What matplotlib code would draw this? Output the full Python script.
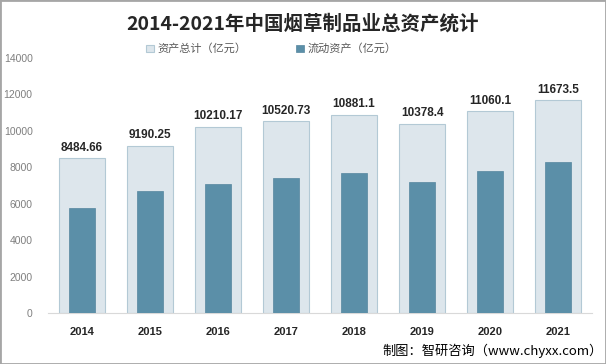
import matplotlib.pyplot as plt
import numpy as np
from matplotlib.patches import Rectangle

plt.rcParams['font.family'] = ['Noto Sans CJK SC', 'DejaVu Sans']

years = ['2014', '2015', '2016', '2017', '2018', '2019', '2020', '2021']
total_assets = [8484.66, 9190.25, 10210.17, 10520.73, 10881.1, 10378.4, 11060.1, 11673.5]
total_labels = ['8484.66', '9190.25', '10210.17', '10520.73', '10881.1', '10378.4', '11060.1', '11673.5']
current_assets = [5770, 6700, 7085, 7410, 7690, 7195, 7815, 8290]

light = '#dde6ec'
light_edge = '#b3c9d5'
dark = '#5b8fa8'

fig = plt.figure(figsize=(6.06, 3.64), dpi=100)
ax = fig.add_axes([0.079, 0.14, 0.898, 0.701])

x = np.arange(len(years))
ax.bar(x, total_assets, width=0.67, color=light, edgecolor=light_edge, linewidth=0.8,
       label='资产总计（亿元）', zorder=2)
ax.bar(x, current_assets, width=0.38, color=dark, edgecolor='#55869e', linewidth=0.5,
       label='流动资产（亿元）', zorder=3)

for xi, v, s in zip(x, total_assets, total_labels):
    ax.text(xi, v + 250, s, ha='center', va='bottom', fontsize=8.5,
            fontweight='bold', color='#262626', family=['Liberation Sans'])

ax.set_xlim(-0.5, 7.5)
ax.set_ylim(0, 14000)
ax.set_yticks(range(0, 14001, 2000))
ax.set_xticks(x)
ax.set_xticklabels(years, fontsize=8, fontweight='bold', color='#262626', family=['Liberation Sans'])
ax.tick_params(axis='y', labelsize=7.5, colors='#7f7f7f', length=0, pad=11)
ax.tick_params(axis='x', length=0, pad=10)
for lab in ax.get_yticklabels():
    lab.set_family(['Liberation Sans'])
for sp in ['top', 'right', 'left']:
    ax.spines[sp].set_visible(False)
ax.spines['bottom'].set_color('#d9d9d9')

fig.text(0.5, 0.935, '2014-2021年中国烟草制品业总资产统计', ha='center', va='center',
         fontsize=14, fontweight='bold', color='#262626')
ax.legend(loc='center', bbox_to_anchor=(0.41, 1.035), ncol=2, frameon=False,
          fontsize=8, handlelength=0.7, handleheight=0.7, columnspacing=4.5,
          handletextpad=0.3, labelcolor='#595959')

fig.text(0.995, 0.035, '制图：智研咨询（www.chyxx.com）', ha='right', va='center',
         fontsize=9.5, color='#000000')

fig.patches.append(Rectangle((0, 0), 1, 1, transform=fig.transFigure, fill=False,
                             edgecolor='#a6a6a6', linewidth=2))

fig.savefig('out.png', dpi=100)
